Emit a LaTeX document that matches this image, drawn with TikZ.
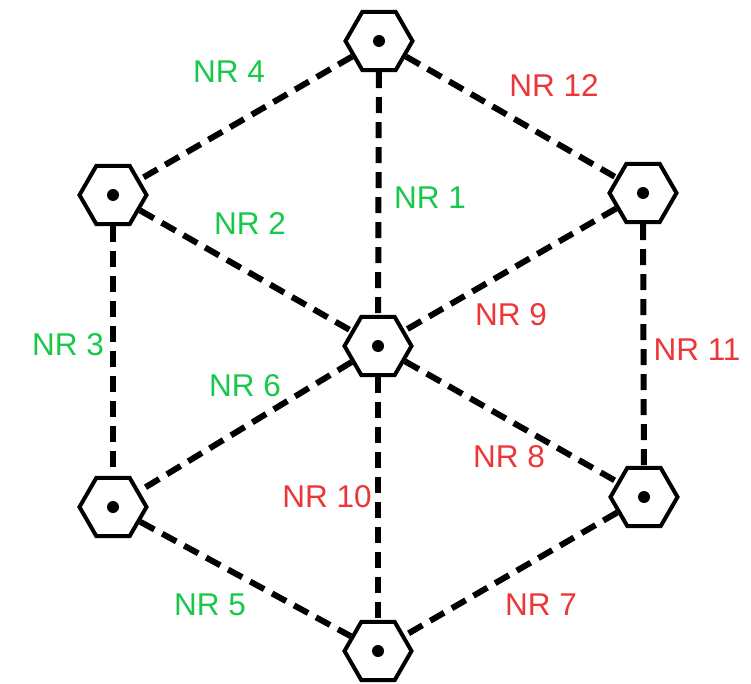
\documentclass[tikz,border=0pt]{standalone}
\usepackage{fontspec}
\setmainfont{Liberation Sans}
\usetikzlibrary{shapes.geometric}
\definecolor{nrgreen}{RGB}{25,200,75}
\definecolor{nrred}{RGB}{235,55,55}
\tikzset{
  hexnode/.style={regular polygon, regular polygon sides=6, draw=black, line width=4pt,
    minimum size=67pt, inner sep=0pt, fill=white},
  link/.style={line width=6pt, dash pattern=on 16pt off 9pt},
  lab/.style={font=\fontsize{31.5}{31.5}\selectfont, inner sep=0pt},
  glab/.style={lab, text=nrgreen},
  rlab/.style={lab, text=nrred}
}
\begin{document}
\begin{tikzpicture}[x=1pt,y=-1pt]
\useasboundingbox (0,0) rectangle (751,684);
\fill[white] (0,0) rectangle (751,684);
\foreach \n/\x/\y in {T/379/41, UL/113/195, UR/643/193, C/378/346, LL/113/507, LR/644/497, B/378/651}{
  \node[hexnode] (\n) at (\x,\y) {};
  \fill (\x,\y) circle (6pt);
}
\draw[link] (T) -- (UL);
\draw[link] (T) -- (C);
\draw[link] (T) -- (UR);
\draw[link] (UL) -- (C);
\draw[link] (UL) -- (LL);
\draw[link] (UR) -- (C);
\draw[link] (UR) -- (LR);
\draw[link] (C) -- (LL);
\draw[link] (C) -- (LR);
\draw[link] (C) -- (B);
\draw[link] (LL) -- (B);
\draw[link] (LR) -- (B);
\node[glab] (l4) at (229,72) {NR 4};
\node[glab] (l1) at (430,198) {NR 1};
\node[glab] (l2) at (250,224) {NR 2};
\node[glab] (l3) at (68,345) {NR 3};
\node[glab] (l6) at (245,386) {NR 6};
\node[glab] (l5) at (210,605) {NR 5};
\node[rlab] (l12) at (554,86) {NR 12};
\node[rlab] (l9) at (511,315) {NR 9};
\node[rlab] (l11) at (697,350) {NR 11};
\node[rlab] (l8) at (509,457) {NR 8};
\node[rlab] (l10) at (327,497) {NR 10};
\node[rlab] (l7) at (541,605) {NR 7};
\end{tikzpicture}
\end{document}
